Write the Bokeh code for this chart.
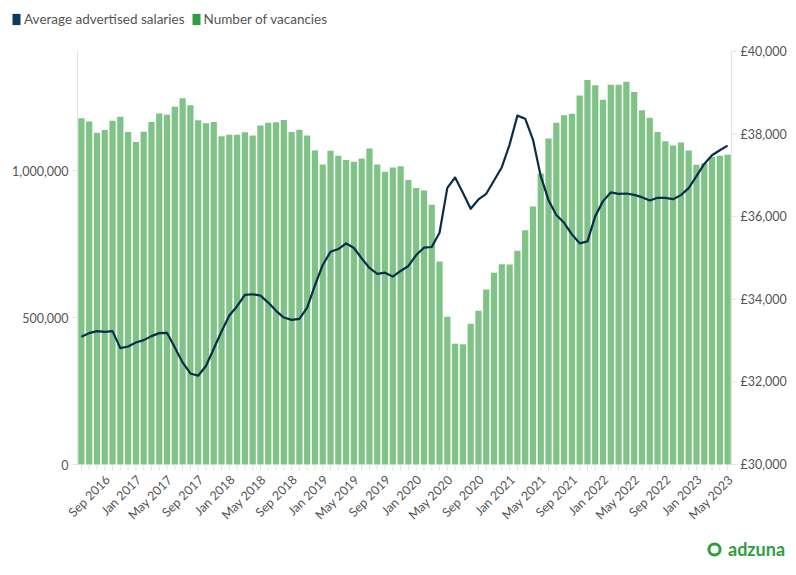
from math import pi, nan
from bokeh.plotting import figure
from bokeh.models import (Range1d, Legend, LegendItem, ColumnDataSource)
from bokeh.core.properties import value
from bokeh.embed import file_html
from bokeh.resources import INLINE

# ---------------- data ----------------
months = ["Jun 2016", "Jul 2016", "Aug 2016", "Sep 2016", "Oct 2016", "Nov 2016", "Dec 2016",
          "Jan 2017", "Feb 2017", "Mar 2017", "Apr 2017", "May 2017", "Jun 2017", "Jul 2017",
          "Aug 2017", "Sep 2017", "Oct 2017", "Nov 2017", "Dec 2017",
          "Jan 2018", "Feb 2018", "Mar 2018", "Apr 2018", "May 2018", "Jun 2018", "Jul 2018",
          "Aug 2018", "Sep 2018", "Oct 2018", "Nov 2018", "Dec 2018",
          "Jan 2019", "Feb 2019", "Mar 2019", "Apr 2019", "May 2019", "Jun 2019", "Jul 2019",
          "Aug 2019", "Sep 2019", "Oct 2019", "Nov 2019", "Dec 2019",
          "Jan 2020", "Feb 2020", "Mar 2020", "Apr 2020", "May 2020", "Jun 2020", "Jul 2020",
          "Aug 2020", "Sep 2020", "Oct 2020", "Nov 2020", "Dec 2020",
          "Jan 2021", "Feb 2021", "Mar 2021", "Apr 2021", "May 2021", "Jun 2021", "Jul 2021",
          "Aug 2021", "Sep 2021", "Oct 2021", "Nov 2021", "Dec 2021",
          "Jan 2022", "Feb 2022", "Mar 2022", "Apr 2022", "May 2022", "Jun 2022", "Jul 2022",
          "Aug 2022", "Sep 2022", "Oct 2022", "Nov 2022", "Dec 2022",
          "Jan 2023", "Feb 2023", "Mar 2023", "Apr 2023", "May 2023"]

vacancies = [1178000, 1167000, 1129000, 1138000, 1169000, 1183000, 1131000,
             1097000, 1132000, 1165000, 1194000, 1190000, 1217000, 1246000,
             1222000, 1171000, 1161000, 1165000, 1117000,
             1122000, 1122000, 1130000, 1119000, 1153000, 1163000, 1164000,
             1172000, 1131000, 1139000, 1119000, 1068000,
             1021000, 1067000, 1050000, 1036000, 1030000, 1041000, 1075000,
             1021000, 996000, 1010000, 1015000, 968000,
             941000, 932000, 884000, 691000, 503000, 411000, 409000,
             479000, 523000, 595000, 652000, 681000,
             680000, 727000, 797000, 878000, 990000, 1109000, 1163000,
             1188000, 1193000, 1255000, 1308000, 1290000,
             1241000, 1292000, 1292000, 1302000, 1267000, 1205000, 1180000,
             1131000, 1100000, 1085000, 1095000, 1068000,
             1020000, 1025000, 1046000, 1050000, 1054000]

salaries = [33092, 33181, 33229, 33213, 33229, 32818, 32857,
            32954, 33011, 33108, 33181, 33188, 32834, 32471,
            32205, 32150, 32384, 32802, 33220,
            33607, 33833, 34106, 34122, 34090, 33921, 33720,
            33558, 33502, 33527, 33800, 34340,
            34831, 35152, 35217, 35355, 35242, 34992, 34758,
            34614, 34645, 34549, 34686, 34807,
            35072, 35249, 35266, 35611, 36698, 36949, 36577,
            36191, 36417, 36554, 36877, 37198,
            37746, 38447, 38374, 37867, 36981, 36401, 36039,
            35853, 35572, 35355, 35403, 36014,
            36377, 36587, 36554, 36562, 36529, 36473, 36393,
            36457, 36457, 36425, 36522, 36691,
            36981, 37278, 37488, 37609, 37722]

vac_ticks = [0, 500000, 1000000]
vac_tick_labels = ["0", "500,000", "1,000,000"]
vac_max = 1405000
sal_ticks = [30000, 32000, 34000, 36000, 38000, 40000]
sal_tick_labels = ["£30,000", "£32,000", "£34,000", "£36,000", "£38,000", "£40,000"]
series_names = ["Average advertised salaries", "Number of vacancies"]
logo_text = "adzuna"

# ---------------- styles / layout ----------------
FONT = "Lato"
TXT = "#555555"
AXIS = "#e3e3e3"
BAR = "#7fc387"
LINE = "#0b2d48"
NAVY = "#0d3a5c"
GREEN = "#2f9e41"
W, H = 788, 567
PL, PR, PT, PB = 77, 731, 51, 464      # plotting area in canvas pixels

n = len(months)
sx = (PR - PL) / n
x_range = Range1d(-0.5 - PL / sx, n - 0.5 + (W - PR) / sx)
sy = (PB - PT) / vac_max
y_range = Range1d(-(H - PB) / sy, vac_max + PT / sy)
sal_lo, sal_hi = sal_ticks[0], sal_ticks[-1]
ss = (PB - PT) / (sal_hi - sal_lo)
sal_range = Range1d(sal_lo - (H - PB) / ss, sal_hi + PT / ss)

p = figure(width=W, height=H, output_backend="svg", toolbar_location=None,
           x_range=x_range, y_range=y_range, x_axis_type=None, y_axis_type=None,
           min_border=0)
p.outline_line_color = None
p.grid.visible = False
p.extra_y_ranges = {"sal": sal_range}

idx = list(range(n))
src = ColumnDataSource(dict(x=idx, vac=vacancies, sal=salaries))

p.vbar(x="x", top="vac", bottom=0, width=0.8, source=src, fill_color=BAR, line_color=None)
p.line(x="x", y="sal", source=src, y_range_name="sal", line_color=LINE, line_width=2.2,
       line_join="round")

# ---- axes drawn through the scales ----
x_left, x_right = -0.5, n - 0.5
# left axis
p.segment(x0=[x_left], y0=[0], x1=[x_left], y1=[vac_max], line_color=AXIS, line_width=1)
p.ray(x=[x_left] * len(vac_ticks), y=vac_ticks, length=5, length_units="screen",
      angle=pi, line_color=AXIS, line_width=1)
p.text(x=[x_left] * len(vac_ticks), y=vac_ticks, text=vac_tick_labels, x_offset=-9,
       text_align="right", text_baseline="middle", text_font=value(FONT),
       text_font_size="12.5px", text_color=TXT)
# right axis
p.segment(x0=[x_right], y0=[sal_lo], x1=[x_right], y1=[sal_hi], y_range_name="sal",
          line_color=AXIS, line_width=1)
p.ray(x=[x_right] * len(sal_ticks), y=sal_ticks, length=5, length_units="screen",
      angle=0, line_color=AXIS, line_width=1, y_range_name="sal")
p.text(x=[x_right] * len(sal_ticks), y=sal_ticks, text=sal_tick_labels, x_offset=9,
       text_align="left", text_baseline="middle", text_font=value(FONT),
       text_font_size="12.5px", text_color=TXT, y_range_name="sal")
# bottom axis: a tick for every month, a label every four months
p.ray(x=idx, y=[0] * n, length=6, length_units="screen", angle=-pi / 2,
      line_color=AXIS, line_width=1)
major = [i for i in idx if months[i].startswith(("Sep", "Jan", "May"))]
p.text(x=major, y=[0] * len(major), text=[months[i] for i in major],
       x_offset=3, y_offset=13, angle=pi / 4, text_align="right", text_baseline="middle",
       text_font=value(FONT), text_font_size="12.5px", text_color=TXT)

# ---- legend (square swatches) ----
nan_src = ColumnDataSource(dict(x=[nan], top=[nan], y=[nan]))
r_navy = p.vbar(x="x", top="top", width=0.8, source=nan_src, fill_color=NAVY, line_color=None)
r_green = p.vbar(x="x", top="top", width=0.8, source=nan_src, fill_color=GREEN, line_color=None)
legend = Legend(items=[LegendItem(label=series_names[0], renderers=[r_navy]),
                       LegendItem(label=series_names[1], renderers=[r_green])],
                orientation="horizontal", location=(11, H - 27),
                glyph_width=10, glyph_height=14, label_height=14,
                label_standoff=3, spacing=6, padding=0, margin=0,
                border_line_color=None, background_fill_alpha=0,
                label_text_font=FONT, label_text_font_size="13.5px",
                label_text_color=TXT)
p.add_layout(legend, "center")

# ---- logo ----
r_logo = p.scatter(x="x", y="y", source=nan_src, marker="circle", size=10,
                   fill_color=None, line_color=GREEN, line_width=3)
logo = Legend(items=[LegendItem(label=logo_text, renderers=[r_logo])],
              location=(700, 4), glyph_width=28, glyph_height=28, label_height=28,
              label_standoff=0, padding=0, margin=0,
              border_line_color=None, background_fill_alpha=0,
              label_text_font=FONT, label_text_font_size="18px",
              label_text_font_style="bold", label_text_color=GREEN)
p.add_layout(logo, "center")

open("out.html", "w").write(file_html(p, INLINE))
